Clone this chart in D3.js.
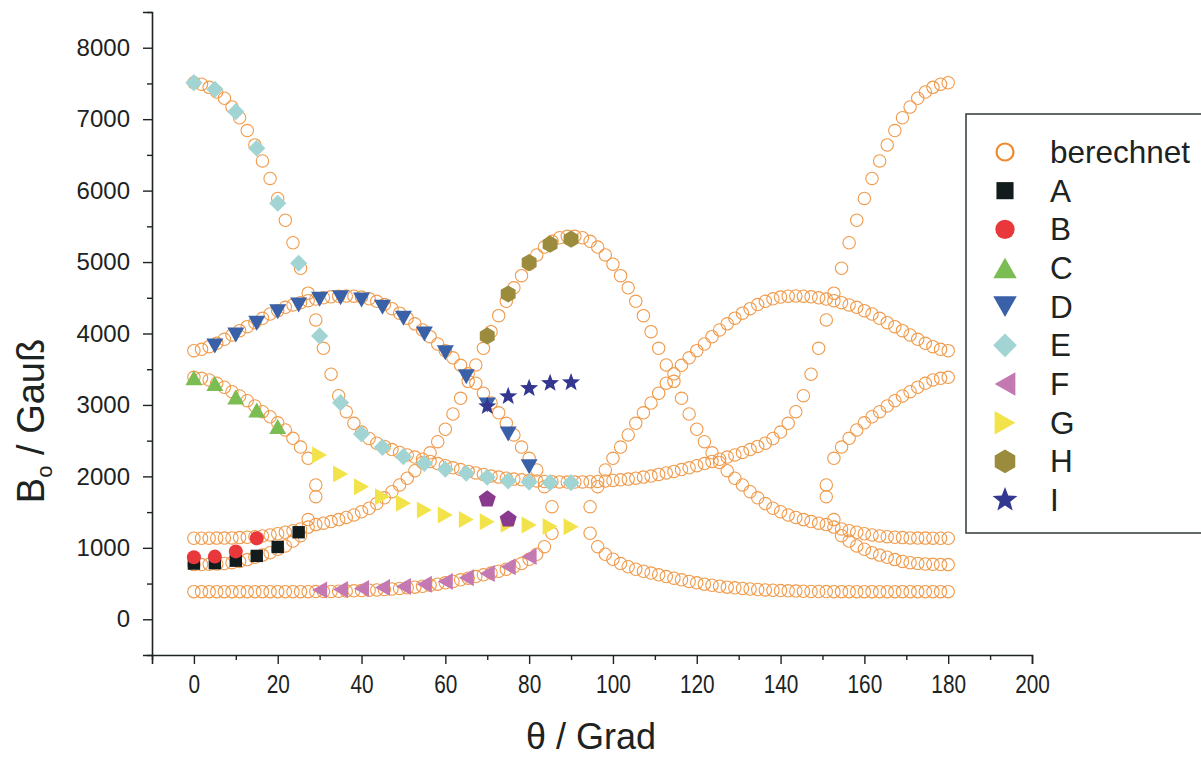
<!DOCTYPE html>
<html>
<head>
<meta charset="utf-8">
<script src="https://cdn.jsdelivr.net/npm/d3@7"></script>
<style>
  html, body { margin: 0; padding: 0; background: #ffffff; }
  svg { display: block; }
</style>
</head>
<body>
<svg id="chart" width="1201" height="758"></svg>
<script>
// ---- calculated resonance positions (θ grid of 100 angles, 0..180°) ----
const thetaCalc = [
  0, 1.82, 3.64, 5.45, 7.27, 9.09, 10.91, 12.73, 14.55, 16.36,
  18.18, 20, 21.82, 23.64, 25.45, 27.27, 29.09, 30.91, 32.73, 34.55,
  36.36, 38.18, 40, 41.82, 43.64, 45.45, 47.27, 49.09, 50.91, 52.73,
  54.55, 56.36, 58.18, 60, 61.82, 63.64, 65.45, 67.27, 69.09, 70.91,
  72.73, 74.55, 76.36, 78.18, 80, 81.82, 83.64, 85.45, 87.27, 89.09,
  90.91, 92.73, 94.55, 96.36, 98.18, 100, 101.82, 103.64, 105.45, 107.27,
  109.09, 110.91, 112.73, 114.55, 116.36, 118.18, 120, 121.82, 123.64, 125.45,
  127.27, 129.09, 130.91, 132.73, 134.55, 136.36, 138.18, 140, 141.82, 143.64,
  145.45, 147.27, 149.09, 150.91, 152.73, 154.55, 156.36, 158.18, 160, 161.82,
  163.64, 165.45, 167.27, 169.09, 170.91, 172.73, 174.55, 176.36, 178.18, 180
];

const calcBranch1 = [
  7510, 7490, 7445, 7380, 7293, 7170, 7020, 6840, 6640, 6415,
  6170, 5890, 5585, 5270, 4913, 4565, 4190, 3793, 3430, 3130,
  2906, 2743, 2620, 2530, 2465, 2420, 2375, 2335, 2300, 2270,
  2240, 2210, 2180, 2150, 2120, 2095, 2070, 2048, 2028, 2005,
  1990, 1975, 1962, 1952, 1943, 1936, 1930, 1926, 1923, 1921,
  1921, 1923, 1926, 1930, 1936, 1943, 1952, 1962, 1975, 1990,
  2005, 2028, 2048, 2070, 2095, 2120, 2150, 2180, 2210, 2240,
  2270, 2300, 2335, 2375, 2420, 2465, 2530, 2620, 2743, 2906,
  3130, 3430, 3793, 4190, 4565, 4913, 5270, 5585, 5890, 6170,
  6415, 6640, 6840, 7020, 7170, 7293, 7380, 7445, 7490, 7510
];

const calcBranch2 = [
  3760, 3779, 3816, 3863, 3919, 3980, 4040, 4096, 4152, 4213,
  4273, 4320, 4367, 4400, 4432, 4460, 4482, 4500, 4514, 4522,
  4525, 4522, 4510, 4485, 4450, 4405, 4348, 4285, 4215, 4135,
  4050, 3956, 3853, 3760, 3660, 3555, 3435, 3305, 3165, 3027,
  2890, 2743, 2580, 2410, 2253, 2090, 1856, 1576, null, null,
  null, null, 1576, 1856, 2090, 2253, 2410, 2580, 2743, 2890,
  3027, 3165, 3305, 3435, 3555, 3660, 3760, 3853, 3956, 4050,
  4135, 4215, 4285, 4348, 4405, 4450, 4485, 4510, 4522, 4525,
  4522, 4514, 4500, 4482, 4460, 4432, 4400, 4367, 4320, 4273,
  4213, 4152, 4096, 4040, 3980, 3919, 3863, 3816, 3779, 3760
];

const calcBranch3 = [
  1134, 1134, 1135, 1136, 1137, 1139, 1143, 1148, 1156, 1166,
  1180, 1197, 1218, 1240, 1265, 1395, 1325, 1345, 1368, 1395,
  1425, 1460, 1505, 1554, 1620, 1700, 1786, 1880, 1974, 2080,
  2195, 2330, 2486, 2660, 2873, 3093, 3330, 3560, 3793, 4026,
  4250, 4450, 4640, 4810, 4970, 5100, 5210, 5290, 5340, 5360,
  5360, 5340, 5290, 5210, 5100, 4970, 4810, 4640, 4450, 4250,
  4026, 3793, 3560, 3330, 3093, 2873, 2660, 2486, 2330, 2195,
  2080, 1974, 1880, 1786, 1700, 1620, 1554, 1505, 1460, 1425,
  1395, 1368, 1345, 1325, 1395, 1265, 1240, 1218, 1197, 1180,
  1166, 1156, 1148, 1143, 1139, 1137, 1136, 1135, 1134, 1134
];

const calcBranch4 = [
  3387, 3373, 3350, 3303, 3248, 3186, 3126, 3060, 2986, 2906,
  2835, 2750, 2650, 2533, 2410, 2253, 1880, null, null, null,
  null, null, null, null, null, null, null, null, null, null,
  null, null, null, null, null, null, null, null, null, null,
  null, null, null, null, null, null, null, null, null, null,
  null, null, null, null, null, null, null, null, null, null,
  null, null, null, null, null, null, null, null, null, null,
  null, null, null, null, null, null, null, null, null, null,
  null, null, null, 1880, 2253, 2410, 2533, 2650, 2750, 2835,
  2906, 2986, 3060, 3126, 3186, 3248, 3303, 3350, 3373, 3387
];

const calcBranch5 = [
  765, 766, 769, 774, 781, 792, 810, 835, 868, 898,
  932, 980, 1027, 1095, 1170, 1290, 1716, null, null, null,
  null, null, null, null, null, null, null, null, null, null,
  null, null, null, null, null, null, null, null, null, null,
  null, null, null, null, null, null, null, null, null, null,
  null, null, null, null, null, null, null, null, null, null,
  null, null, null, null, null, null, null, null, null, null,
  null, null, null, null, null, null, null, null, null, null,
  null, null, null, 1716, 1290, 1170, 1095, 1027, 980, 932,
  898, 868, 835, 810, 792, 781, 774, 769, 766, 765
];

const calcBranch6 = [
  387, 387, 387, 387, 387, 387, 387, 387, 387, 387,
  387, 387, 387, 387, 387, 387, 388, 389, 390, 392,
  395, 398, 402, 406, 411, 417, 424, 432, 440, 450,
  462, 476, 492, 510, 530, 552, 575, 598, 622, 647,
  672, 700, 735, 780, 840, 910, 1016, 1204, null, null,
  null, null, 1204, 1016, 910, 840, 780, 735, 700, 672,
  647, 622, 598, 575, 552, 530, 510, 492, 476, 462,
  450, 440, 432, 424, 417, 411, 406, 402, 398, 395,
  392, 390, 389, 388, 387, 387, 387, 387, 387, 387,
  387, 387, 387, 387, 387, 387, 387, 387, 387, 387
];

// ---- measured resonance positions ----
const thetaA = [0, 5, 10, 15, 20, 25];
const valA   = [780, 786, 820, 887, 1012, 1218];

const thetaB = [0, 5, 10, 15];
const valB   = [868, 877, 950, 1134];

const thetaC = [0, 5, 10, 15, 20];
const valC   = [3380, 3300, 3110, 2930, 2700];

const thetaD = [5, 10, 15, 20, 25, 30, 35, 40, 45, 50, 55, 60, 65, 70, 75, 80];
const valD   = [3826, 3980, 4143, 4306, 4400, 4479, 4502, 4470, 4367, 4213, 3993, 3732, 3396, 3000, 2595, 2135];

const thetaE = [0, 5, 10, 15, 20, 25, 30, 35, 40, 45, 50, 55, 60, 65, 70, 75, 80, 85, 90];
const valE   = [7511, 7418, 7105, 6593, 5823, 4983, 3966, 3032, 2594, 2407, 2276, 2183, 2100, 2044, 1988, 1936, 1920, 1912, 1912];

const thetaF = [30, 35, 40, 45, 50, 55, 60, 65, 70, 75, 80];
const valF   = [410, 418, 430, 445, 460, 490, 530, 580, 640, 735, 877];

const thetaG = [30, 35, 40, 45, 50, 55, 60, 65, 70, 75, 80, 85, 90];
const valG   = [2300, 2034, 1856, 1716, 1623, 1530, 1460, 1395, 1366, 1330, 1320, 1300, 1296];

const thetaH = [70, 75, 80, 85, 90];
const valH   = [3966, 4553, 4992, 5250, 5320];

const thetaI = [70, 75, 80, 85, 90];
const valI   = [2980, 3120, 3233, 3305, 3315];

const thetaPent = [70, 75];
const valPent   = [1694, 1414];

const legendLabels = ["berechnet", "A", "B", "C", "D", "E", "F", "G", "H", "I"];
const xTicks = [0, 20, 40, 60, 80, 100, 120, 140, 160, 180, 200];
const yTicks = [0, 1000, 2000, 3000, 4000, 5000, 6000, 7000, 8000];

// ---- symbol shapes (bounding-box centred) ----
function circlePath(r) {
  const p = d3.path(); p.moveTo(r, 0); p.arc(0, 0, r, 0, 2 * Math.PI); p.closePath(); return p.toString();
}
function polyPath(pts) {
  const p = d3.path(); pts.forEach((q, i) => i ? p.lineTo(q[0], q[1]) : p.moveTo(q[0], q[1])); p.closePath(); return p.toString();
}
function squarePath(s) { return polyPath([[-s, -s], [s, -s], [s, s], [-s, s]]); }
function triUp(w, h) { return polyPath([[0, -h / 2], [w / 2, h / 2], [-w / 2, h / 2]]); }
function triDown(w, h) { return polyPath([[-w / 2, -h / 2], [w / 2, -h / 2], [0, h / 2]]); }
function triLeft(w, h) { return polyPath([[-w / 2, 0], [w / 2, -h / 2], [w / 2, h / 2]]); }
function triRight(w, h) { return polyPath([[w / 2, 0], [-w / 2, h / 2], [-w / 2, -h / 2]]); }
function diamondPath(r) { return polyPath([[0, -r], [r, 0], [0, r], [-r, 0]]); }
function regularPath(n, r) {
  const pts = [];
  for (let k = 0; k < n; k++) { const a = -Math.PI / 2 + k * 2 * Math.PI / n; pts.push([r * Math.cos(a), r * Math.sin(a)]); }
  return polyPath(pts);
}
function starPath(R, r) {
  const pts = [];
  for (let k = 0; k < 10; k++) { const a = -Math.PI / 2 + k * Math.PI / 5; const rr = k % 2 ? r : R; pts.push([rr * Math.cos(a), rr * Math.sin(a)]); }
  return polyPath(pts);
}

const svg = d3.select("#chart");
const x = d3.scaleLinear().domain([-10, 200]).range([152, 1032]);
const y = d3.scaleLinear().domain([-500, 8500]).range([655, 12]);

const FONT = "'Liberation Sans', Arial, Helvetica, sans-serif";
const INK = "#1d2222";

// ---- axes ----
const yMinor = d3.range(-500, 8501, 1000);
const xMinor = d3.range(-10, 201, 20);

const gy = svg.append("g").attr("transform", `translate(${x(-10)},0)`);
gy.call(d3.axisLeft(y).tickValues(yTicks).tickSize(9).tickPadding(13).tickFormat(d3.format("d")));
gy.call(g => g.append("g").call(d3.axisLeft(y).tickValues(yMinor).tickSize(5).tickFormat("")).select(".domain").remove());

const gx = svg.append("g").attr("transform", `translate(0,${y(-500)})`);
gx.call(d3.axisBottom(x).tickValues(xTicks).tickSize(9).tickPadding(11).tickFormat(d3.format("d")));
gx.call(g => g.append("g").call(d3.axisBottom(x).tickValues(xMinor).tickSize(5).tickFormat("")).select(".domain").remove());

svg.selectAll(".domain").attr("stroke", INK).attr("stroke-width", 1.6);
svg.selectAll(".tick line").attr("stroke", INK).attr("stroke-width", 1.4);
gy.selectAll(".tick text").attr("font-family", FONT).attr("font-size", 24).attr("fill", INK);
// the bottom labels are set in a narrower, taller cut
gx.selectAll(".tick text").attr("font-family", FONT).attr("font-size", 26).attr("fill", INK)
  .attr("transform", "scale(0.8,1)");

// axis titles
const yTitle = svg.append("text")
  .attr("transform", `translate(44,${421}) rotate(-90)`)
  .attr("text-anchor", "middle")
  .attr("font-family", FONT).attr("font-size", 38).attr("fill", INK);
yTitle.append("tspan").text("B");
yTitle.append("tspan").attr("font-size", 22).attr("dy", 8).text("o");
yTitle.append("tspan").attr("dy", -8).text(" / Gauß");

svg.append("text")
  .attr("x", 591).attr("y", 749)
  .attr("text-anchor", "middle")
  .attr("font-family", FONT).attr("font-size", 36).attr("fill", INK)
  .text("θ / Grad");

// ---- calculated points ----
const plot = svg.append("g");
const calcBranches = [calcBranch1, calcBranch2, calcBranch3, calcBranch4, calcBranch5, calcBranch6];
const calcPoints = [];
calcBranches.forEach(b => b.forEach((v, i) => { if (v != null) calcPoints.push([thetaCalc[i], v]); }));
plot.append("g").selectAll("path").data(calcPoints).join("path")
  .attr("d", circlePath(6.2))
  .attr("transform", d => `translate(${x(d[0])},${y(d[1])})`)
  .attr("fill", "none").attr("stroke", "#f19a4a").attr("stroke-width", 1.1);

// ---- measured series ----
const series = [
  { th: thetaA, v: valA, color: "#121c1c", shape: s => squarePath(6.2 * s) },
  { th: thetaB, v: valB, color: "#e8383b", shape: s => circlePath(7 * s) },
  { th: thetaC, v: valC, color: "#7bbd52", shape: s => triUp(17 * s, 15 * s) },
  { th: thetaD, v: valD, color: "#3a61a8", shape: s => triDown(17 * s, 15 * s) },
  { th: thetaE, v: valE, color: "#a2d4d3", shape: s => diamondPath(8.6 * s) },
  { th: thetaF, v: valF, color: "#c479b2", shape: s => triLeft(15 * s, 17 * s) },
  { th: thetaG, v: valG, color: "#f3e34a", shape: s => triRight(15 * s, 17 * s) },
  { th: thetaH, v: valH, color: "#9b8c3d", shape: s => regularPath(6, 8.6 * s) },
  { th: thetaI, v: valI, color: "#34378f", shape: s => starPath(9.5 * s, 4 * s) }
];

series.forEach(sr => {
  plot.append("g").selectAll("path").data(sr.th.map((t, i) => [t, sr.v[i]])).join("path")
    .attr("d", sr.shape(1))
    .attr("transform", d => `translate(${x(d[0])},${y(d[1])})`)
    .attr("fill", sr.color);
});

plot.append("g").selectAll("path").data(thetaPent.map((t, i) => [t, valPent[i]])).join("path")
  .attr("d", regularPath(5, 9))
  .attr("transform", d => `translate(${x(d[0])},${y(d[1]) + 1})`)
  .attr("fill", "#8a3a8e");

// ---- legend ----
const lg = svg.append("g");
lg.append("rect").attr("x", 966).attr("y", 114).attr("width", 260).attr("height", 419)
  .attr("fill", "#ffffff").attr("stroke", "#3b4545").attr("stroke-width", 1.6);
const rowY = d3.scaleLinear().domain([0, 9]).range([152, 500]);
legendLabels.forEach((lab, i) => {
  const cy = rowY(i);
  if (i === 0) {
    lg.append("path").attr("d", circlePath(8.5)).attr("transform", `translate(1005,${cy})`)
      .attr("fill", "none").attr("stroke", "#ee8a2c").attr("stroke-width", 2.2);
  } else {
    lg.append("path").attr("d", series[i - 1].shape(1.38)).attr("transform", `translate(1005,${cy})`)
      .attr("fill", series[i - 1].color);
  }
  lg.append("text").attr("x", 1050).attr("y", cy + 11)
    .attr("font-family", FONT).attr("font-size", 31.5).attr("fill", INK).text(lab);
});
</script>
</body>
</html>
